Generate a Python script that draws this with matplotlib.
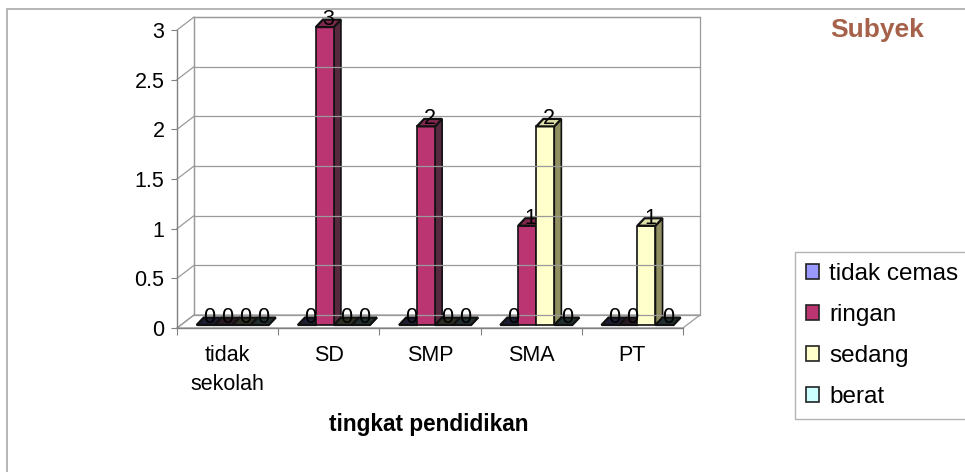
import matplotlib.pyplot as plt
from matplotlib.patches import Polygon, Patch, Rectangle

plt.rcParams['font.family'] = ['Liberation Sans', 'DejaVu Sans']

categories = ["tidak\nsekolah", "SD", "SMP", "SMA", "PT"]
series = ["tidak cemas", "ringan", "sedang", "berat"]
tidak_cemas = [0, 0, 0, 0, 0]
ringan = [0, 3, 2, 1, 0]
sedang = [0, 0, 0, 2, 1]
berat = [0, 0, 0, 0, 0]
values = [tidak_cemas, ringan, sedang, berat]

front_colors = ["#9999ff", "#bb3572", "#ffffcc", "#ccffff"]
side_colors = ["#2e2e48", "#56293f", "#8f8f62", "#4e6a6a"]
top_colors = ["#7a7ac8", "#80284f", "#e0e0aa", "#a8d4d4"]
slab_colors = ["#1e1e34", "#2a1a24", "#303024", "#22302f"]
yticks = [0, 0.5, 1, 1.5, 2, 2.5, 3]

# pseudo 3D geometry (data units)
wall_dx, wall_dy = 0.167, 0.13
bar_dx, bar_dy = 0.07, 0.075
off_x, off_y = 0.05, 0.03
bar_w = 0.178
n_cat = len(categories)

fig = plt.figure(figsize=(9.65, 4.72), dpi=100)
ax = fig.add_axes([0.1572, 0.2841, 0.6030, 0.6943])
ax.set_xlim(-0.75, 5.0)
ax.set_ylim(-0.1, 3.2)

grid_c = "#9a9a9a"
x0, x1 = -0.5, n_cat - 0.5
ytop = yticks[-1]

# back wall, left wall and floor
ax.add_patch(Polygon([(x0 + wall_dx, wall_dy), (x1 + wall_dx, wall_dy),
                      (x1 + wall_dx, ytop + wall_dy), (x0 + wall_dx, ytop + wall_dy)],
                     closed=True, facecolor="white", edgecolor=grid_c, lw=0.9))
for t in yticks:
    ax.plot([x0 + wall_dx, x1 + wall_dx], [t + wall_dy, t + wall_dy], color=grid_c, lw=0.9)
    ax.plot([x0, x0 + wall_dx], [t, t + wall_dy], color=grid_c, lw=0.9)
ax.plot([x0 + wall_dx, x0 + wall_dx], [wall_dy, ytop + wall_dy], color=grid_c, lw=0.9)
ax.add_patch(Polygon([(x0, 0), (x1, 0), (x1 + wall_dx, wall_dy), (x0 + wall_dx, wall_dy)],
                     closed=True, facecolor="white", edgecolor=grid_c, lw=0.9))

# bars: side face, front face, top face
for ci in range(n_cat):
    for si in range(len(series)):
        v = values[si][ci]
        left = ci - 2 * bar_w + si * bar_w + off_x
        right = left + bar_w
        base = off_y
        ax.add_patch(Polygon([(right, base), (right + bar_dx, base + bar_dy),
                              (right + bar_dx, base + v + bar_dy), (right, base + v)],
                             closed=True, facecolor=side_colors[si], edgecolor="#111111", lw=1.2))
        if v > 0:
            ax.bar(left, v, width=bar_w, bottom=base, align="edge",
                   color=front_colors[si], edgecolor="#111111", lw=1.2)
            top_fc = top_colors[si]
        else:
            top_fc = slab_colors[si]
        ax.add_patch(Polygon([(left, base + v), (right, base + v),
                              (right + bar_dx, base + v + bar_dy), (left + bar_dx, base + v + bar_dy)],
                             closed=True, facecolor=top_fc, edgecolor="#111111", lw=1.6))
        ax.text(left + bar_w / 2 + bar_dx / 2, base + v + 0.075, f"{v}",
                ha="center", va="center", fontsize=15.5, color="black")

# axes lines and ticks
for s in ["top", "right"]:
    ax.spines[s].set_visible(False)
ax.spines["left"].set_position(("data", x0))
ax.spines["left"].set_bounds(0, ytop)
ax.spines["bottom"].set_position(("data", 0))
ax.spines["bottom"].set_bounds(x0, x1)
for s in ["left", "bottom"]:
    ax.spines[s].set_color("#808080")
    ax.spines[s].set_linewidth(1)

ax.set_yticks(yticks)
ax.set_yticklabels(["0", "0.5", "1", "1.5", "2", "2.5", "3"])
ax.tick_params(axis="y", length=4, color="#808080", labelsize=15.5, pad=5)
ax.set_xticks([x0 + i for i in range(n_cat + 1)])
ax.set_xticklabels([])
ax.set_xticks(range(n_cat), minor=True)
ax.set_xticklabels(categories, minor=True, linespacing=1.5)
ax.tick_params(axis="x", which="major", length=5, color="#808080")
ax.tick_params(axis="x", which="minor", length=0, labelsize=15.5, pad=12)

fig.text(429 / 965, 1 - 425 / 472, "tingkat pendidikan", ha="center", va="center",
         fontsize=16.3, fontweight="bold")
fig.text(877 / 965, 1 - 30 / 472, "Subyek", ha="center", va="center",
         fontsize=19, fontweight="bold", color="#a5614a")

handles = [Patch(facecolor=front_colors[i], edgecolor="#222222", lw=1.2) for i in range(len(series))]
leg = fig.legend(handles, series, loc="upper left", bbox_to_anchor=(795 / 965, 1 - 252 / 472),
                 fontsize=17.5, frameon=True, fancybox=False, handlelength=0.55, handleheight=0.55,
                 handletextpad=0.4, labelspacing=0.78, borderpad=0.45, borderaxespad=0)
leg.get_frame().set_edgecolor("#a0a0a0")
leg.get_frame().set_linewidth(1)

# outer chart border
fig.patches.append(Rectangle((7 / 965, -0.05), 1.1, 1 - 9 / 472 + 0.05, transform=fig.transFigure,
                             fill=False, edgecolor="#b0b0b0", lw=1.3))

fig.savefig("out.png", dpi=100)
